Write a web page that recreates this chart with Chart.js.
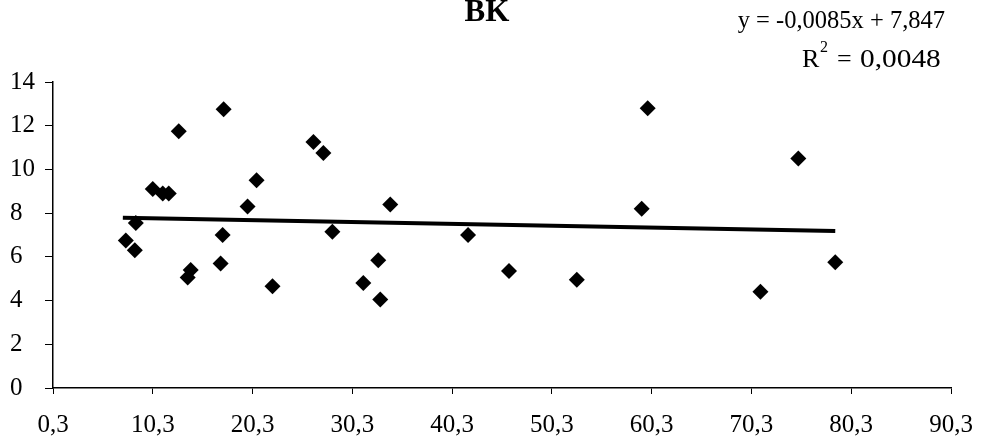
<!DOCTYPE html>
<html><head><meta charset="utf-8">
<script src="https://cdn.jsdelivr.net/npm/chart.js@4"></script>
<style>html,body{margin:0;padding:0;background:#fff}#wrap{width:997px;height:446px}</style>
</head><body><div id="wrap"><canvas id="c" width="997" height="446"></canvas></div>
<script>
const xValues = [7.6, 8.5, 8.6, 10.3, 11.3, 11.9, 12.9, 13.8, 14.1, 17.4, 17.3, 17.1, 19.8, 20.7, 22.3, 26.4, 27.4, 28.3, 34.1, 31.4, 32.9, 33.1, 41.9, 46.0, 52.8, 59.9, 59.3, 75.0, 71.2, 78.7];
const yValues = [6.75, 6.3, 7.55, 9.1, 8.9, 8.9, 11.75, 5.05, 5.4, 12.75, 7.0, 5.7, 8.3, 9.5, 4.65, 11.25, 10.75, 7.15, 8.4, 4.8, 5.85, 4.05, 7.0, 5.35, 4.95, 12.8, 8.2, 10.5, 4.4, 5.75];
const xTickValues = [0.3, 10.3, 20.3, 30.3, 40.3, 50.3, 60.3, 70.3, 80.3, 90.3];
const yTickValues = [0, 2, 4, 6, 8, 10, 12, 14];
const trendSlope = -0.0085;
const trendIntercept = 7.847;
const chartTitle = 'BK';
const equationText = 'y = -0,0085x + 7,847';
const rSquaredParts = ['R', '2', '=', '0,0048'];

const points = xValues.map((x, i) => ({x: x, y: yValues[i]}));
const xMin = Math.min(...xValues), xMax = Math.max(...xValues);
const trendPoints = [xMin - 0.3, xMax].map(x => ({x: x, y: trendSlope * x + trendIntercept}));
const FONT = "'Liberation Serif', 'Times New Roman', serif";

const textPlugin = {
  id: 'texts',
  afterDraw(chart) {
    const ctx = chart.ctx;
    ctx.save();
    ctx.fillStyle = '#000';
    ctx.textBaseline = 'middle';
    ctx.font = "bold 31px " + FONT;
    ctx.textAlign = 'center';
    ctx.fillText(chartTitle, 487, 13);
    ctx.save();
    ctx.font = "25px " + FONT;
    ctx.textAlign = 'right';
    ctx.translate(945, 21);
    ctx.scale(0.98, 1);
    ctx.fillText(equationText, 0, 0);
    ctx.restore();
    ctx.textAlign = 'left';
    ctx.font = "26px " + FONT;
    ctx.fillText(rSquaredParts[0], 802, 60);
    ctx.font = "16px " + FONT;
    ctx.fillText(rSquaredParts[1], 820, 48);
    ctx.font = "26px " + FONT;
    ctx.fillText(rSquaredParts[2], 837, 60);
    ctx.save();
    ctx.translate(860, 60);
    ctx.scale(1.13, 1);
    ctx.fillText(rSquaredParts[3], 0, 0);
    ctx.restore();
    ctx.restore();
  }
};

new Chart(document.getElementById('c'), {
  type: 'scatter',
  data: {
    datasets: [
      {type: 'line', data: trendPoints, borderColor: '#000', borderWidth: 4, pointRadius: 0, fill: false, order: 2},
      {data: points, pointStyle: 'rectRot', pointRadius: 8, backgroundColor: '#000', borderWidth: 0, order: 1}
    ]
  },
  options: {
    responsive: false,
    animation: false,
    devicePixelRatio: 1,
    layout: {padding: {left: 10, right: 46, top: 82, bottom: 0}},
    plugins: {legend: {display: false}, tooltip: {enabled: false}, title: {display: false}},
    scales: {
      x: {
        type: 'linear', min: 0.3, max: 90.3,
        afterBuildTicks: s => { s.ticks = xTickValues.map(v => ({value: v})); },
        afterFit: s => { s.height = 58; },
        grid: {drawOnChartArea: false, drawTicks: true, tickLength: 6, color: '#000', lineWidth: 1},
        border: {display: true, color: '#000', width: 1.5},
        ticks: {color: '#000', font: {family: FONT, size: 25}, padding: 16, maxRotation: 0,
          callback: v => v.toFixed(1).replace('.', ',')}
      },
      y: {
        type: 'linear', min: 0, max: 14,
        afterBuildTicks: s => { s.ticks = yTickValues.map(v => ({value: v})); },
        afterFit: s => { s.width = 43; },
        grid: {drawOnChartArea: false, drawTicks: true, tickLength: 8, color: '#000', lineWidth: 1},
        border: {display: true, color: '#000', width: 1.5},
        ticks: {color: '#000', font: {family: FONT, size: 25}, padding: 4, crossAlign: 'far',
          callback: v => String(v)}
      }
    }
  },
  plugins: [textPlugin]
});
</script>
</body></html>
